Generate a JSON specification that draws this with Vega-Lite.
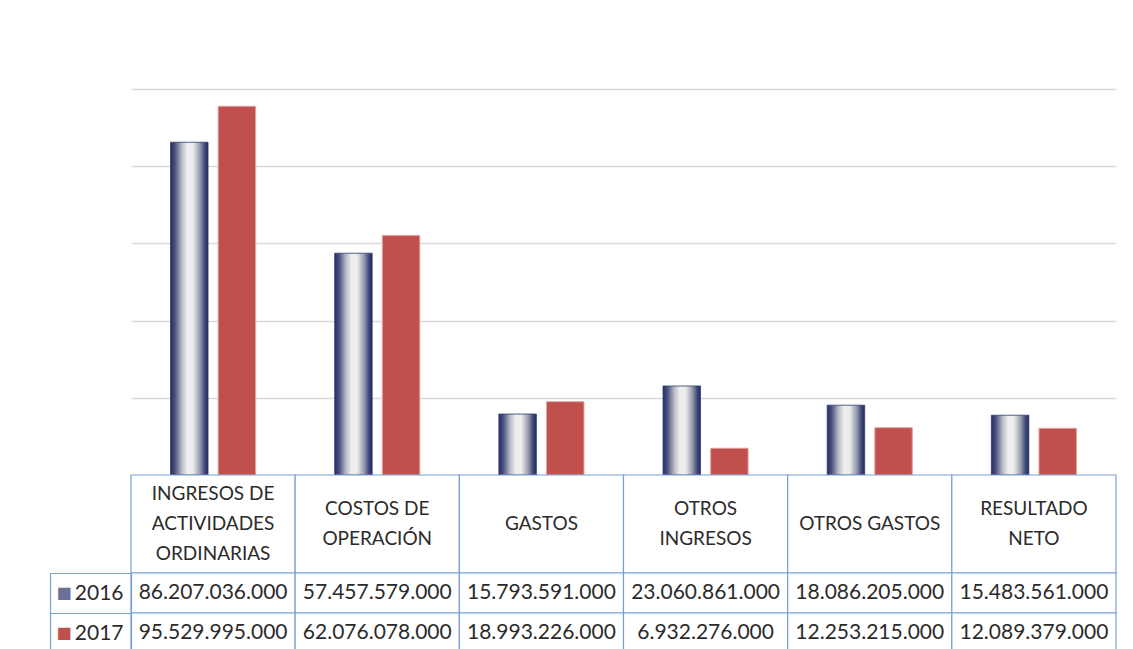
{
  "$schema": "https://vega.github.io/schema/vega-lite/v6.json",
  "padding": {"left": 49, "top": 89, "right": 0, "bottom": 0},
  "autosize": {"type": "pad"},
  "spacing": 0,
  "bounds": "flush",
  "background": "white",
  "config": {
    "view": {"stroke": null},
    "font": "Lato",
    "locale": {"number": {"decimal": ",", "thousands": ".", "grouping": [3], "currency": ["$", ""]}}
  },
  "datasets": {
    "t": [
      {"cat": "INGRESOS DE ACTIVIDADES ORDINARIAS", "label": "INGRESOS DE\nACTIVIDADES\nORDINARIAS", "year": "2016", "value": 86207036000},
      {"cat": "INGRESOS DE ACTIVIDADES ORDINARIAS", "label": "INGRESOS DE\nACTIVIDADES\nORDINARIAS", "year": "2017", "value": 95529995000},
      {"cat": "COSTOS DE OPERACIÓN", "label": "COSTOS DE\nOPERACIÓN", "year": "2016", "value": 57457579000},
      {"cat": "COSTOS DE OPERACIÓN", "label": "COSTOS DE\nOPERACIÓN", "year": "2017", "value": 62076078000},
      {"cat": "GASTOS", "label": "GASTOS", "year": "2016", "value": 15793591000},
      {"cat": "GASTOS", "label": "GASTOS", "year": "2017", "value": 18993226000},
      {"cat": "OTROS INGRESOS", "label": "OTROS\nINGRESOS", "year": "2016", "value": 23060861000},
      {"cat": "OTROS INGRESOS", "label": "OTROS\nINGRESOS", "year": "2017", "value": 6932276000},
      {"cat": "OTROS GASTOS", "label": "OTROS GASTOS", "year": "2016", "value": 18086205000},
      {"cat": "OTROS GASTOS", "label": "OTROS GASTOS", "year": "2017", "value": 12253215000},
      {"cat": "RESULTADO NETO", "label": "RESULTADO\nNETO", "year": "2016", "value": 15483561000},
      {"cat": "RESULTADO NETO", "label": "RESULTADO\nNETO", "year": "2017", "value": 12089379000}
    ]
  },
  "resolve": {"scale": {"x": "independent", "y": "independent", "xOffset": "independent"}},
  "vconcat": [
    {
      "width": 985,
      "height": 386,
      "data": {"name": "t"},
      "encoding": {
        "x": {"field": "cat", "type": "nominal", "sort": null, "scale": {"paddingInner": 0, "paddingOuter": 0}, "axis": null},
        "xOffset": {"field": "year", "type": "nominal", "scale": {"domain": ["2016", "2017"], "paddingInner": 0.2128, "paddingOuter": 0.83}},
        "y": {
          "field": "value", "type": "quantitative",
          "scale": {"domain": [0, 100000000000], "nice": false},
          "axis": {"values": [20000000000, 40000000000, 60000000000, 80000000000, 100000000000], "grid": true, "gridColor": "#d9d9d9", "gridWidth": 1.5, "labels": false, "ticks": false, "domain": false, "title": null}
        }
      },
      "layer": [
        {
          "transform": [{"filter": "datum.year == '2016'"}],
          "mark": {
            "type": "bar",
            "fill": {"gradient": "linear", "x1": 0, "x2": 1, "y1": 0, "y2": 0,
              "stops": [
                {"offset": 0, "color": "#222d66"},
                {"offset": 0.12, "color": "#4a527e"},
                {"offset": 0.3, "color": "#b9bac6"},
                {"offset": 0.45, "color": "#efefef"},
                {"offset": 0.6, "color": "#ececec"},
                {"offset": 0.78, "color": "#9a9cb0"},
                {"offset": 0.92, "color": "#3b4475"},
                {"offset": 1, "color": "#222d66"}
              ]},
            "stroke": "#2e3a6e",
            "strokeWidth": 0.8
          }
        },
        {
          "transform": [{"filter": "datum.year == '2017'"}],
          "mark": {"type": "bar", "fill": "#C0504D", "stroke": "#e3a3a1", "strokeWidth": 1}
        }
      ]
    },
    {
      "width": 985,
      "height": 98,
      "data": {"name": "t"},
      "transform": [{"filter": "datum.year == '2016'"}],
      "encoding": {
        "x": {"field": "cat", "type": "nominal", "sort": null, "scale": {"paddingInner": 0, "paddingOuter": 0}, "axis": null}
      },
      "layer": [
        {"mark": {"type": "rect", "fill": "white", "stroke": "#7a9fd4", "strokeWidth": 1.2}},
        {"mark": {"type": "text", "lineBreak": "\n", "lineHeight": 30, "fontSize": 19, "color": "#2b2b2b", "dy": {"expr": "-(split(datum.label, '\\n').length - 1) * 15"}}, "encoding": {"text": {"field": "label"}}}
      ]
    },
    {
      "width": 985,
      "height": 80,
      "data": {"name": "t"},
      "encoding": {
        "x": {"field": "cat", "type": "nominal", "sort": null, "scale": {"paddingInner": 0, "paddingOuter": 0}, "axis": null},
        "y": {"field": "year", "type": "nominal", "scale": {"paddingInner": 0, "paddingOuter": 0}}
      },
      "layer": [
        {
          "mark": {"type": "rect", "fill": "white", "stroke": "#7a9fd4", "strokeWidth": 1.2},
          "encoding": {
            "y": {"field": "year", "type": "nominal", "scale": {"paddingInner": 0, "paddingOuter": 0},
              "axis": {"orient": "left", "title": null, "labelFontSize": 21, "labelColor": "#2b2b2b", "labelFont": "Lato", "labelPadding": -73, "tickSize": 81, "tickColor": "#7a9fd4", "tickWidth": 1.2, "tickBand": "extent", "domain": true, "domainColor": "#7a9fd4", "domainWidth": 1.2}}
          }
        },
        {
          "mark": {"type": "text", "fontSize": 21, "color": "#2b2b2b"},
          "encoding": {
            "text": {"field": "value", "type": "quantitative", "format": ",.0f"},
            "y": {"field": "year", "type": "nominal", "scale": {"paddingInner": 0, "paddingOuter": 0},
              "axis": {"orient": "left", "offset": 81, "title": null, "labelExpr": "'■'", "labelFont": "DejaVu Sans", "labelFontSize": 16, "labelAlign": "left", "labelPadding": -6, "ticks": false, "tickSize": 0, "labelColor": {"condition": {"test": "datum.value == '2017'", "value": "#C0504D"}, "value": "#6a7096"}, "domain": true, "domainColor": "#7a9fd4", "domainWidth": 1.2}}
          }
        }
      ],
      "resolve": {"axis": {"y": "independent"}}
    }
  ]
}
